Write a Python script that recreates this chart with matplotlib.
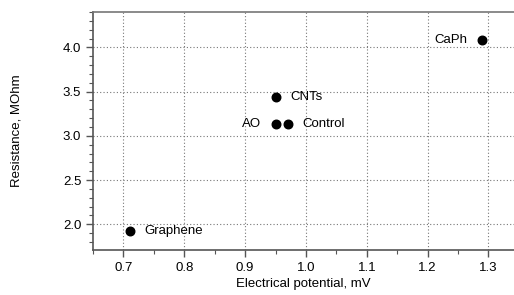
import matplotlib
matplotlib.use("Agg")
import matplotlib.pyplot as plt
from matplotlib.ticker import MultipleLocator

plt.rcParams['font.family'] = ['Liberation Sans', 'DejaVu Sans']

names = ["CaPh", "CNTs", "AO", "Control", "Graphene"]
potential = [1.29, 0.95, 0.95, 0.97, 0.71]
resistance = [4.08, 3.44, 3.13, 3.13, 1.93]
label_side = ["left", "right", "left", "right", "right"]

fig = plt.figure(figsize=(5.14, 2.95), dpi=100)
ax = fig.add_axes([93 / 514, 45 / 295, 421 / 514, 238 / 295])

ax.scatter(potential, resistance, s=38, color='black', zorder=3)

for name, x, y, side in zip(names, potential, resistance, label_side):
    if side == "left":
        ax.annotate(name, (x, y), xytext=(-10.5, 0), textcoords='offset points',
                    ha='right', va='center', fontsize=9.5)
    else:
        ax.annotate(name, (x, y), xytext=(10.5, 0), textcoords='offset points',
                    ha='left', va='center', fontsize=9.5)

ax.set_xlim(0.65, 1.342)
ax.set_ylim(1.71, 4.40)
ax.xaxis.set_major_locator(MultipleLocator(0.1))
ax.xaxis.set_minor_locator(MultipleLocator(0.05))
ax.yaxis.set_major_locator(MultipleLocator(0.5))
ax.yaxis.set_minor_locator(MultipleLocator(0.1))
ax.xaxis.set_major_formatter(plt.FormatStrFormatter('%.1f'))
ax.yaxis.set_major_formatter(plt.FormatStrFormatter('%.1f'))

ax.grid(True, which='major', linestyle=(0, (1, 2)), color='#777777', linewidth=0.8)

ax.spines['right'].set_visible(False)
ax.spines['top'].set_color('#777777')
ax.spines['top'].set_linewidth(1.2)
for s in ['left', 'bottom']:
    ax.spines[s].set_color('#555555')
    ax.spines[s].set_linewidth(1.2)

ax.tick_params(which='major', direction='out', length=5, width=1, color='#555555',
               labelsize=9.5)
ax.tick_params(which='minor', direction='out', length=3, width=0.8, color='#555555')
ax.tick_params(top=False, right=False, which='both')

ax.set_xlabel('Electrical potential, mV', fontsize=9.5, labelpad=3)
ax.set_ylabel('Resistance, MOhm', fontsize=9.5, labelpad=29)

fig.savefig('out.png', dpi=100)
